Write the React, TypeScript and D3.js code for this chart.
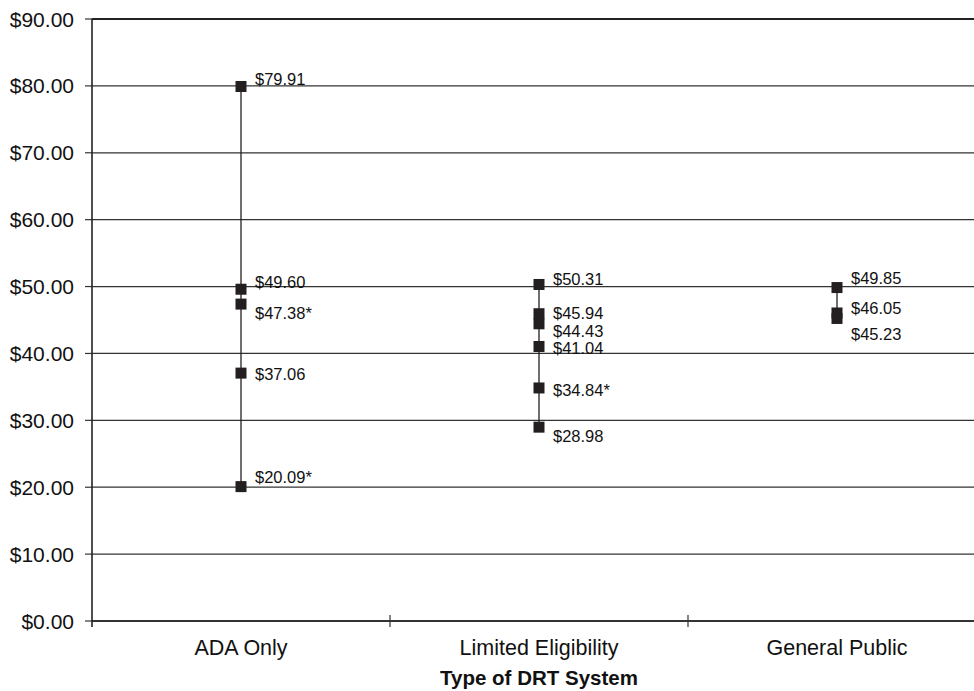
import React from "react";
import * as d3 from "d3";

// Cost per trip by type of demand-response system
const categories = ["ADA Only", "Limited Eligibility", "General Public"];

const adaValues = [79.91, 49.6, 47.38, 37.06, 20.09];
const adaLabels = ["$79.91", "$49.60", "$47.38*", "$37.06", "$20.09*"];

const limitedValues = [50.31, 45.94, 44.43, 41.04, 34.84, 28.98];
const limitedLabels = ["$50.31", "$45.94", "$44.43", "$41.04", "$34.84*", "$28.98"];

const generalValues = [49.85, 46.05, 45.23];
const generalLabels = ["$49.85", "$46.05", "$45.23"];

const yTicks = [0, 10, 20, 30, 40, 50, 60, 70, 80, 90];

// vertical nudges for the value labels so the stacked ones do not collide
const adaLabelDy = [-7, -7, 9, 1, -10];
const limitedLabelDy = [-5, -1, 7, 2, 2, 9];
const generalLabelDy = [-10, -5, 16];

const series = [
  { values: adaValues, labels: adaLabels, dy: adaLabelDy },
  { values: limitedValues, labels: limitedLabels, dy: limitedLabelDy },
  { values: generalValues, labels: generalLabels, dy: generalLabelDy },
];

const W = 974;
const H = 691;
const left = 92;
const right = 986;
const top = 19;
const bottom = 621;

export default function App() {
  const x = d3.scaleBand<string>().domain(categories).range([left, right]).padding(0);
  const y = d3.scaleLinear().domain([0, 90]).range([bottom, top]);
  const fmt = (v: number) => "$" + d3.format(".2f")(v);
  const font = "'Liberation Sans', Arial, Helvetica, sans-serif";
  const mark = 11;
  const ink = "#231f20";

  return (
    <svg
      width={W}
      height={H}
      style={{ position: "absolute", left: 0, top: 0, background: "#fff" }}
      fontFamily={font}
    >
      {/* horizontal gridlines and y ticks */}
      {yTicks.map((t) => (
        <g key={t}>
          <line
            x1={left}
            x2={right}
            y1={y(t)}
            y2={y(t)}
            stroke={t === 90 ? "#222" : "#333"}
            strokeWidth={t === 90 || t === 0 ? 1.8 : 1.2}
          />
          <line x1={left - 7} x2={left} y1={y(t)} y2={y(t)} stroke="#333" strokeWidth={1.2} />
          <text
            x={74}
            y={y(t)}
            textAnchor="end"
            dominantBaseline="central"
            fontSize={21}
            fill="#111"
          >
            {fmt(t)}
          </text>
        </g>
      ))}

      {/* y axis */}
      <line x1={left} x2={left} y1={top} y2={bottom + 6} stroke="#222" strokeWidth={1.6} />

      {/* category boundary ticks */}
      {categories.slice(1).map((c) => (
        <line
          key={c}
          x1={x(c)!}
          x2={x(c)!}
          y1={bottom - 6}
          y2={bottom + 6}
          stroke="#333"
          strokeWidth={1.2}
        />
      ))}

      {/* category labels */}
      {categories.map((c) => (
        <text
          key={c}
          x={x(c)! + x.bandwidth() / 2}
          y={655}
          textAnchor="middle"
          fontSize={21.5}
          fill="#111"
        >
          {c}
        </text>
      ))}
      <text
        x={(left + right) / 2}
        y={685}
        textAnchor="middle"
        fontSize={20.5}
        fontWeight="bold"
        fill="#111"
      >
        Type of DRT System
      </text>

      {/* range lines, markers and value labels */}
      {series.map((s, i) => {
        const cx = x(categories[i])! + x.bandwidth() / 2;
        const [lo, hi] = d3.extent(s.values) as [number, number];
        return (
          <g key={categories[i]}>
            <line x1={cx} x2={cx} y1={y(hi)} y2={y(lo)} stroke={ink} strokeWidth={1.3} />
            {s.values.map((v, j) => (
              <rect
                key={"m" + j}
                x={cx - mark / 2}
                y={y(v) - mark / 2}
                width={mark}
                height={mark}
                fill={ink}
              />
            ))}
            {s.values.map((v, j) => (
              <text
                key={"t" + j}
                x={cx + 14}
                y={y(v) + s.dy[j]}
                dominantBaseline="central"
                fontSize={16.5}
                fill="#111"
              >
                {s.labels[j]}
              </text>
            ))}
          </g>
        );
      })}
    </svg>
  );
}
